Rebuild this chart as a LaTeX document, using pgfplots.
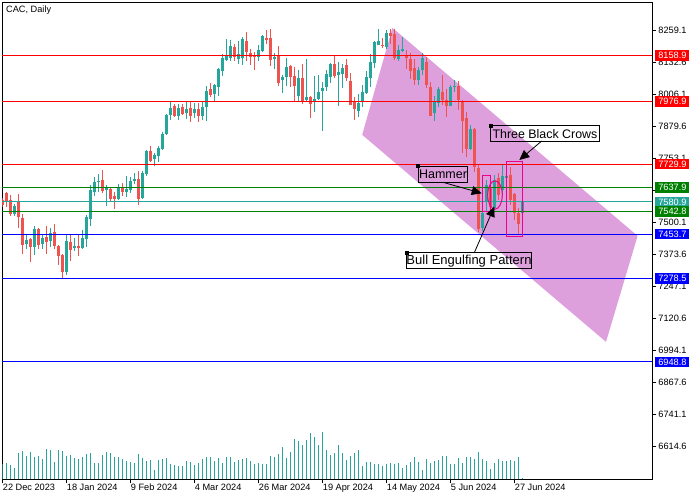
\documentclass[border=0pt]{standalone}
\usepackage{fontspec}
\setmainfont{Liberation Sans}
\usepackage{pgfplots}
\usepackage{pgfplotstable}
\pgfplotsset{compat=1.18}
\usetikzlibrary{arrows.meta}
\definecolor{upc}{HTML}{26A69A}
\definecolor{dnc}{HTML}{EF5350}
\definecolor{plumc}{HTML}{DDA0DD}
\definecolor{grn}{HTML}{008000}
\pgfplotstableread{
x open high low close
0 7589 7596 7561 7569
1 7616.4 7620.4 7561.1 7584.8
2 7588.8 7608.5 7525.6 7533.5
4 7580.9 7612.5 7478.2 7521.6
5 7517.7 7533.5 7375.5 7411
7 7434.7 7438.7 7343.9 7403.1
9 7474.2 7478.2 7395.2 7411
11 7442.6 7486.1 7375.5 7422.9
13 7462.4 7494 7395.2 7407.1
14 7407.1 7411 7332 7367.6
15 7371.5 7375.5 7276.7 7304.4
17 7422.9 7450.5 7347.8 7391.3
19 7407.1 7450.5 7367.6 7399.2
25 7667.8 7707.3 7616.4 7624.3
27 7632.2 7640.1 7580.9 7592.7
28 7604.6 7620.4 7553.2 7592.7
30 7636.2 7656 7604.6 7620.4
34 7671.8 7703.3 7569 7592.7
37 7782.3 7802.1 7738.9 7742.8
43 7960.1 7968 7916.6 7920.6
45 7956.1 7968 7924.5 7928.5
47 7952.2 7975.9 7896.9 7920.6
49 7948.2 7971.9 7896.9 7920.6
52 8027.2 8050.9 7995.6 8003.5
58 8193.1 8205 8137.8 8153.6
61 8216.8 8252.4 8137.8 8173.4
62 8169.4 8185.2 8122 8153.6
63 8157.6 8173.4 8102.3 8153.6
66 8228.7 8260.3 8205 8220.8
67 8228.7 8264.2 8118.1 8141.8
69 8161.5 8197.1 8039.1 8050.9
72 8118.1 8122 8035.1 8074.6
73 8078.6 8114.1 7979.8 8039.1
75 8070.7 8126 7968 7979.8
77 7995.6 7999.6 7912.7 7968
83 8126 8157.6 8070.7 8078.6
86 8122 8145.7 8058.8 8070.7
87 8058.8 8090.4 7964.1 7964.1
88 7975.9 7995.6 7904.8 7948.2
95 8201 8228.7 8189.2 8197.1
97 8248.4 8264.2 8205 8236.6
98 8244.5 8264.2 8141.8 8149.7
101 8161.5 8181.3 8106.2 8149.7
102 8145.7 8169.4 8066.7 8098.3
103 8110.2 8145.7 8043 8062.8
106 8133.9 8153.6 8031.2 8043
107 8035.1 8054.9 7920.6 7920.6
110 8015.4 8082.5 7964.1 7983.8
111 7983.8 8027.2 7916.6 7960.1
114 8039.1 8058.8 7944.3 7983.8
115 7979.8 7983.8 7774.4 7900.8
116 7912.7 7936.4 7758.7 7790.2
118 7869.2 7873.2 7699.4 7719.2
119 7715.2 7727 7462.4 7474.3
122 7636.2 7648 7541.4 7561.1
124 7675.7 7695.4 7588.8 7608.5
127 7687.5 7719.2 7569 7588.8
128 7612.5 7616.5 7509.7 7537.4
129 7537.4 7557.2 7450.5 7493.9
}\downcandles
\pgfplotstableread{
x open high low close
3 7533.5 7573 7525.6 7565.1
6 7415 7450.5 7395.2 7430.8
8 7403.1 7486.1 7371.5 7474.2
10 7415 7450.5 7395.2 7438.7
12 7426.8 7478.2 7403.1 7458.4
16 7304.4 7450.5 7292.5 7426.8
18 7399.2 7438.7 7387.3 7407.1
20 7399.2 7470.3 7395.2 7438.7
21 7434.7 7529.5 7403.1 7521.6
22 7513.7 7648 7486.1 7628.3
23 7620.4 7679.6 7604.6 7659.9
24 7659.9 7691.5 7620.4 7663.8
26 7628.3 7648 7565.1 7640.1
29 7592.7 7652 7588.8 7640.1
31 7620.4 7683.6 7600.6 7632.2
32 7628.3 7679.6 7616.4 7663.8
33 7663.8 7695.4 7652 7671.8
35 7596.7 7703.3 7592.7 7695.4
36 7691.5 7786.3 7683.6 7782.3
38 7750.7 7774.4 7723.1 7766.5
39 7762.6 7802.1 7738.9 7794.2
40 7790.2 7857.4 7786.3 7849.5
41 7849.5 7928.5 7845.5 7924.5
42 7924.5 7975.9 7904.8 7952.2
44 7920.6 7968 7904.8 7952.2
46 7932.4 7975.9 7908.7 7948.2
48 7932.4 7971.9 7912.7 7948.2
50 7920.6 7977.2 7904.8 7956.1
51 7956.1 8039.1 7900.8 8019.3
53 8007.5 8047 7979.8 8043
54 8035.1 8110.2 7999.6 8106.2
55 8098.3 8165.5 8078.6 8149.7
56 8141.8 8224.7 8137.8 8157.6
57 8149.7 8220.8 8137.8 8197.1
59 8145.7 8216.8 8126 8165.5
60 8149.7 8232.6 8122 8224.7
64 8153.6 8201 8137.8 8181.3
65 8177.3 8240.5 8173.4 8236.6
68 8145.7 8169.4 8106.2 8153.6
70 8062.8 8082.5 8011.4 8074.6
71 8074.6 8149.7 8039.1 8114.1
74 7999.6 8102.3 7979.8 8070.7
76 7983.8 8145.7 7979.8 7995.6
78 7979.8 8078.6 7936.4 7987.7
79 7987.7 8082.5 7983.8 8015.4
80 8019.3 8054.9 7861.3 8031.2
81 8035.1 8102.3 8019.3 8086.5
82 8074.6 8129.9 8050.9 8126
84 8082.5 8133.9 7960.1 8094.4
85 8086.5 8126 8031.2 8110.2
89 7940.3 8007.5 7916.6 7971.9
90 7975.9 8043 7956.1 8015.4
91 8011.4 8098.3 8007.5 8074.6
92 8070.7 8165.5 8035.1 8133.9
93 8129.9 8216.8 8110.2 8212.9
94 8201 8264.2 8201 8216.8
96 8193.1 8260.3 8185.2 8248.4
99 8145.7 8201 8137.8 8181.3
100 8177.3 8232.6 8173.4 8185.2
104 8062.8 8114.1 8043 8102.3
105 8102.3 8169.4 8082.5 8149.7
108 7932.4 7999.6 7900.8 7975.9
109 7971.9 8035.1 7956.1 8027.2
112 7960.1 8043 7960.1 8035.1
113 8035.1 8062.8 8015.4 8039.1
117 7790.2 7885 7786.3 7869.2
120 7478.2 7557.2 7466.3 7537.4
121 7580.9 7667.8 7541.4 7648
123 7557.2 7687.5 7549.3 7667.8
125 7628.3 7727 7608.5 7683.6
126 7675.7 7715.2 7648 7683.6
130 7537.4 7580.9 7529.5 7580.9
}\upcandles
\newcommand\tfont{\fontsize{9.2}{11}\selectfont}
\pgfplotsset{frame/.style={
  at={(2.4pt,20.7pt)},anchor=south west,scale only axis,width=650pt,height=477pt,
  xmin=0,xmax=162.5},
  wick/.style={draw=none,no marks,forget plot,error bars/.cd,y dir=plus,y explicit,error mark=none,
    error bar style={draw=#1,line width=1pt}},
  body/.style={draw=none,no marks,forget plot,error bars/.cd,y dir=plus,y explicit,error mark=none,
    error bar style={draw=#1,line width=3pt}}}
\newcommand\level[3]{%
  \addplot[#2,line width=1pt,forget plot] coordinates {(0,#1) (162.5,#1)};
  \node[fill=#2,text=white,anchor=west,inner sep=0pt,minimum width=34pt,minimum height=10.5pt,align=center,font=\tfont] at (axis cs:163.2,#1) {#3};}
\begin{document}
\begin{tikzpicture}
\path[use as bounding box] (0,0) rectangle (700pt,500pt);
\begin{axis}[frame,ymin=6485.2,ymax=8369,line width=1pt,
  xtick={0,16,32,48,64,80,96,112,128},
  xticklabels={22 Dec 2023,18 Jan 2024,9 Feb 2024,4 Mar 2024,26 Mar 2024,19 Apr 2024,14 May 2024,5 Jun 2024,27 Jun 2024},
  ytick={8259.1,8132.6,8006.1,7879.6,7753.1,7626.6,7500.1,7373.6,7247.1,7120.6,6994.1,6867.6,6741.1,6614.6},
  yticklabels={8259.1,8132.6,8006.1,7879.6,7753.1,7626.6,7500.1,7373.6,7247.1,7120.6,6994.1,6867.6,6741.1,6614.6},
  xtick pos=bottom,ytick pos=right,yticklabel pos=right,
  tick align=outside,major tick length=4pt,tick style={black,line width=1pt},
  xticklabel style={anchor=north west,inner xsep=0pt,inner ysep=0pt,yshift=-0.5pt,font=\tfont},
  yticklabel style={anchor=west,inner xsep=0pt,inner ysep=0pt,xshift=1.5pt,font=\tfont},
  clip=true]
\addplot[fill=plumc,draw=none,forget plot] coordinates {(97.5,8268) (158.8,7446.6) (150.9,7028) (89.95,7845.5)} --cycle;
\addplot[wick=dnc] table[x=x,y=low,y error expr=\thisrow{high}-\thisrow{low}] {\downcandles};
\addplot[body=dnc] table[x=x,y=close,y error expr=\thisrow{open}-\thisrow{close}] {\downcandles};
\addplot[wick=upc] table[x=x,y=low,y error expr=\thisrow{high}-\thisrow{low}] {\upcandles};
\addplot[body=upc] table[x=x,y=open,y error expr=\thisrow{close}-\thisrow{open}] {\upcandles};
\end{axis}
\begin{axis}[frame,hide axis,ymin=0,ymax=477]
\addplot[ycomb,upc,line width=1pt,mark=none] coordinates {
(0,15)(1,16)(2,14)(3,11)(4,26)(5,28)(6,23)(7,27)(8,22)(9,23)(10,20)(11,30)(12,29)(13,17)(14,29)(15,28)(16,23)(17,24)(18,21)(19,20)(20,22)(21,25)(22,26)(23,16)(24,16)(25,24)(26,27)(27,26)(28,22)(29,22)(30,20)(31,18)(32,17)(33,16)(34,25)(35,21)(36,18)(37,19)(38,9)(39,19)(40,20)(41,21)(42,15)(43,14)(44,13)(45,13)(46,18)(47,17)(48,14)(49,16)(50,20)(51,22)(52,22)(53,18)(54,21)(55,16)(56,22)(57,22)(58,17)(59,19)(60,20)(61,21)(62,18)(63,15)(64,16)(65,15)(66,15)(67,23)(68,22)(69,25)(70,32)(71,21)(72,27)(73,40)(74,38)(75,34)(76,39)(77,46)(78,42)(79,34)(80,47)(81,29)(82,24)(83,26)(84,34)(85,26)(86,19)(87,23)(88,26)(89,29)(90,13)(91,17)(92,17)(93,15)(94,15)(95,13)(96,15)(97,16)(98,15)(99,16)(100,11)(101,14)(102,17)(103,22)(104,17)(105,9)(106,20)(107,16)(108,18)(109,19)(110,23)(111,23)(112,15)(113,15)(114,21)(115,16)(116,22)(117,22)(118,20)(119,27)(120,20)(121,18)(122,10)(123,16)(124,20)(125,18)(126,18)(127,19)(128,18)(129,22)(130,1)};
\end{axis}
\begin{axis}[frame,hide axis,ymin=6485.2,ymax=8369,clip=false]
\level{8158.9}{red}{8158.9}
\level{7976.9}{red}{7976.9}
\level{7729.9}{red}{7729.9}
\level{7637.9}{grn}{7637.9}
\level{7580.9}{upc}{7580.9}
\level{7542.8}{grn}{7542.8}
\level{7453.7}{blue}{7453.7}
\level{7278.5}{blue}{7278.5}
\level{6948.8}{blue}{6948.8}
\end{axis}
\begin{scope}[x=1pt,y=-1pt,yshift=500pt]
\node[anchor=west,inner sep=0pt,font=\tfont] at (6,10) {CAC, Daily};
\draw[magenta,line width=1pt] (482.3,175.3) rectangle (490.7,211.7);
\draw[magenta,line width=1pt] (506.3,161.3) rectangle (522.7,236.7);
\draw[magenta,line width=1pt] (495,195) ellipse (7.3 and 14.2);
\draw[black,line width=1pt] (418.3,166.3) rectangle (467.7,182.3);
\node[inner sep=0pt,font=\fontsize{12.5}{14}\selectfont] at (443,174.5) {Hammer};
\draw[black,line width=1pt] (490.5,126) rectangle (599,142);
\node[inner sep=0pt,font=\fontsize{12.4}{14}\selectfont] at (545,134) {Three Black Crows};
\draw[black,line width=1pt] (406.7,252.7) rectangle (531.3,268.3);
\node[inner sep=0pt,font=\fontsize{13}{14}\selectfont] at (469,260.7) {Bull Engulfing Pattern};
\fill (416.3,164.3) rectangle (420.3,168.3);
\fill (488.5,124) rectangle (492.5,128);
\fill (404.7,250.7) rectangle (408.7,254.7);
\draw[black,line width=0.8pt,-{Triangle[length=10pt,width=9pt]}] (443,182.3) -- (481.7,193.3);
\draw[black,line width=0.8pt,-{Triangle[length=10pt,width=9pt]}] (541.7,141) -- (519.3,160);
\draw[black,line width=0.8pt,-{Triangle[length=10pt,width=9pt]}] (474.3,252.7) -- (494.3,206.7);
\end{scope}
\end{tikzpicture}
\end{document}
